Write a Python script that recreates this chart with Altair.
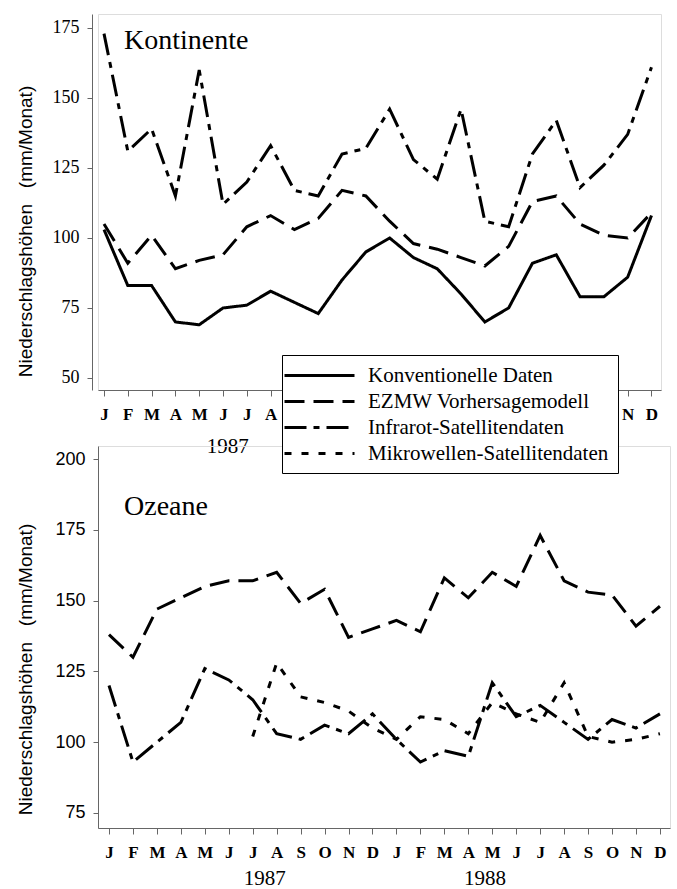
import altair as alt
import pandas as pd

# ---------------- data ----------------
months = ["J", "F", "M", "A", "M", "J", "J", "A", "S", "O", "N", "D",
          "J", "F", "M", "A", "M", "J", "J", "A", "S", "O", "N", "D"]
month_idx = list(range(24))

series_names = ["Konventionelle Daten", "EZMW Vorhersagemodell",
                "Infrarot-Satellitendaten", "Mikrowellen-Satellitendaten"]

# Kontinente
land_konv = [103, 83, 83, 70, 69, 75, 76, 81, 77, 73, 85, 95,
             100, 93, 89, 80, 70, 75, 91, 94, 79, 79, 86, 108]
land_ezmw = [105, 91, 101, 89, 92, 94, 104, 108, 103, 107, 117, 115,
             106, 98, 96, 93, 90, 97, 113, 115, 105, 101, 100, 109]
land_ir = [173, 131, 139, 115, 160, 112, 120, 133, 117, 115, 130, 132,
           146, 128, 121, 146, 106, 104, 130, 142, 118, 126, 137, 161]

# Ozeane
sea_ezmw = [138, 130, 147, 151, 155, 157, 157, 160, 149, 154, 137, 140,
            143, 139, 158, 151, 160, 155, 173, 157, 153, 152, 141, 148]
sea_ir = [120, 93, 100, 107, 126, 122, 115, 103, 101, 106, 103, 110,
          101, 93, 97, 95, 121, 109, 113, 107, 101, 108, 105, 110]
sea_mw_idx = list(range(6, 24))
sea_mw = [102, 128, 116, 114, 111, 105, 101, 109, 108, 103, 114, 110,
          107, 121, 102, 100, 101, 103]

years = ["1987", "1988"]
top_year_pos = [5.2, 15.6]
bottom_year_pos = [6.5, 15.7]

top_ticks = [50, 75, 100, 125, 150, 175]
bottom_ticks = [75, 100, 125, 150, 175, 200]

y_title = "Niederschlagshöhen\u00a0\u00a0\u00a0(mm/Monat)"

# ---------------- tables ----------------
def long_df(pairs):
    rows = []
    for name, idx, vals in pairs:
        for m, v in zip(idx, vals):
            rows.append({"m": m, "v": v, "series": name})
    return pd.DataFrame(rows)

land_df = long_df([
    (series_names[0], month_idx, land_konv),
    (series_names[1], month_idx, land_ezmw),
    (series_names[2], month_idx, land_ir),
])
sea_df = long_df([
    (series_names[1], month_idx, sea_ezmw),
    (series_names[2], month_idx, sea_ir),
    (series_names[3], sea_mw_idx, sea_mw),
])
top_years_df = pd.DataFrame({"m": top_year_pos, "label": years})
bottom_years_df = pd.DataFrame({"m": bottom_year_pos, "label": years})

SERIF = "Liberation Serif"
SANS = "Liberation Sans"
AXIS_GREY = "#666666"
LW = 3.0

month_expr = "[" + ",".join("'%s'" % m for m in months) + "][datum.value]"

dash = alt.StrokeDash(
    "series:N",
    scale=alt.Scale(domain=series_names,
                    range=[[1, 0], [20, 9], [22, 7, 6, 7], [7, 10]]),
    legend=alt.Legend(
        orient="none", legendX=184, legendY=341, title=None,
        labelFont=SERIF, labelFontSize=21, labelColor="black", labelLimit=400,
        symbolType="M-3.5,0H3.5", symbolSize=400, symbolStrokeWidth=LW,
        symbolStrokeColor="black", symbolOffset=17, labelOffset=37,
        padding=9, strokeColor="black", fillColor="white", rowPadding=4,
    ),
)


def x_axis():
    return alt.Axis(values=month_idx, labelExpr=month_expr, title=None,
                    labelFont=SERIF, labelFontWeight="bold", labelFontSize=17,
                    labelColor="black", tickSize=6, labelPadding=10,
                    labelOverlap=False, labelSeparation=0, labelBound=False,
                    domainColor=AXIS_GREY, tickColor=AXIS_GREY, grid=False,
                    labelAngle=0)


def panel(df, years_df, ydomain, xdomain, w, h, ticks, tickfont, yoffset,
          title_x, title_y, name, name_y, year_dy):
    xs = alt.Scale(domain=xdomain, nice=False, zero=False)
    ys = alt.Scale(domain=ydomain, nice=False, zero=False)
    lines = alt.Chart(df).mark_line(color="black", strokeWidth=LW,
                                    strokeCap="butt", strokeJoin="miter").encode(
        x=alt.X("m:Q", scale=xs, axis=x_axis()),
        y=alt.Y("v:Q", scale=ys, axis=alt.Axis(
            values=ticks, title=y_title,
            titleFont=SANS, titleFontSize=19, titleFontWeight="normal",
            titleColor="black", titleAngle=-90, titleX=title_x, titleY=title_y,
            titleAlign="center", titleBaseline="top",
            labelFont=tickfont, labelFontSize=18, labelColor="black",
            tickSize=5, labelPadding=8, offset=yoffset,
            domainColor=AXIS_GREY, tickColor=AXIS_GREY, grid=False)),
        strokeDash=dash,
    )
    yrs = alt.Chart(years_df).mark_text(font=SERIF, fontSize=21, color="black",
                                        baseline="middle", align="center").encode(
        x=alt.X("m:Q", scale=xs, axis=x_axis()),
        y=alt.value(h + year_dy),
        text="label:N",
    )
    label = alt.Chart(pd.DataFrame({"t": [name]})).mark_text(
        font=SERIF, fontSize=28, color="black", align="left",
        baseline="alphabetic").encode(
        x=alt.value(26), y=alt.value(name_y), text="t:N")
    return alt.layer(lines, yrs, label).properties(width=w, height=h)


top = panel(land_df, top_years_df, [45.7, 180], [-0.252, 23.4], 563, 376,
            top_ticks, SERIF, 6, -76, 217, "Kontinente", 35, 57)
bottom = panel(sea_df, bottom_years_df, [69.7, 204.6], [-0.459, 23.42], 572, 382,
               bottom_ticks, SANS, 0, -82, 223, "Ozeane", 69, 51)

chart = alt.vconcat(top, bottom, spacing=56, bounds="flush").properties(
    padding={"left": 15, "top": 13, "right": 0, "bottom": 0}
).configure_view(stroke=None).configure_axis(
    labelOverlap=False
).configure(background="white")

chart.save("out.html", embed_options={"renderer": "svg", "actions": False})
